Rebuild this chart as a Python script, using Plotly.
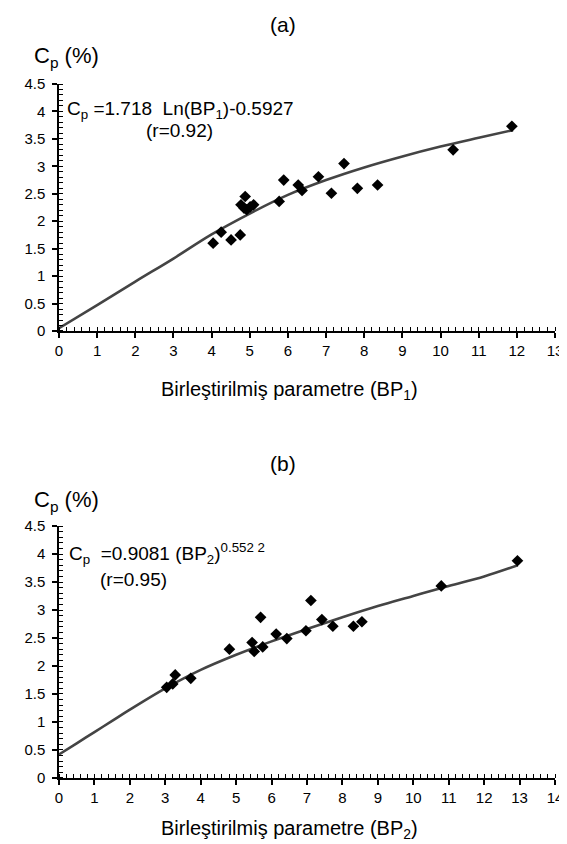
import plotly.graph_objects as go

# ---- data ----
bp1 = [4.04, 4.25, 4.51, 4.75, 4.77, 4.85, 4.92, 5.01, 5.10, 4.88,
       5.77, 5.89, 6.27, 6.37, 6.80, 7.14, 7.47, 7.82, 8.35, 10.33, 11.87]
cp1 = [1.60, 1.80, 1.66, 1.75, 2.30, 2.24, 2.21, 2.26, 2.30, 2.45,
       2.36, 2.75, 2.66, 2.56, 2.81, 2.51, 3.05, 2.60, 2.66, 3.30, 3.73]
fit1_x = [0.0, 1.0, 2.0, 3.0, 4.0, 5.0, 6.0, 7.0, 8.0, 9.0, 10.0, 11.0, 11.9]
fit1_y = [0.05, 0.47, 0.90, 1.32, 1.76, 2.14, 2.48, 2.75, 2.98, 3.18, 3.36, 3.52, 3.66]

bp2 = [3.04, 3.21, 3.28, 3.72, 4.81, 5.45, 5.51, 5.69, 5.75, 6.13, 6.43,
       6.97, 7.11, 7.42, 7.73, 8.31, 8.55, 10.79, 12.94]
cp2 = [1.62, 1.68, 1.84, 1.78, 2.30, 2.42, 2.26, 2.87, 2.34, 2.57, 2.49,
       2.63, 3.17, 2.83, 2.71, 2.71, 2.79, 3.43, 3.88]
fit2_x = [0.0, 0.5, 1.0, 1.5, 2.0, 3.0, 4.0, 5.0, 6.0, 7.0, 8.0, 9.0, 10.0, 11.0, 12.0, 12.95]
fit2_y = [0.42, 0.62, 0.82, 1.02, 1.22, 1.60, 1.93, 2.20, 2.44, 2.66, 2.87, 3.07, 3.25, 3.43, 3.60, 3.80]

x1_range = [0, 13]
x2_range = [0, 14]
y_range = [0, 4.5]

FONT = "Liberation Sans, Arial, sans-serif"

fig = go.Figure()

fig.add_trace(go.Scatter(x=fit1_x, y=fit1_y, mode="lines", line=dict(color="#444444", width=2.6, shape="spline"),
                         xaxis="x", yaxis="y", cliponaxis=False, showlegend=False))
fig.add_trace(go.Scatter(x=bp1, y=cp1, mode="markers", marker=dict(symbol="diamond", size=9, color="black"),
                         xaxis="x", yaxis="y", showlegend=False))
fig.add_trace(go.Scatter(x=fit2_x, y=fit2_y, mode="lines", line=dict(color="#444444", width=2.6, shape="spline"),
                         xaxis="x2", yaxis="y2", cliponaxis=False, showlegend=False))
fig.add_trace(go.Scatter(x=bp2, y=cp2, mode="markers", marker=dict(symbol="diamond", size=9, color="black"),
                         xaxis="x2", yaxis="y2", showlegend=False))

axis_common = dict(showline=True, linecolor="black", linewidth=1.5, showgrid=False, zeroline=False,
                   ticks="outside", ticklen=5, tickwidth=1.5, tickcolor="black",
                   tickfont=dict(family=FONT, size=15, color="black"))
minor_x = dict(dtick=0.2, ticks="inside", ticklen=4, tickwidth=1.2, tickcolor="black")
minor_y = dict(dtick=0.1, ticks="inside", ticklen=4, tickwidth=1.2, tickcolor="black")

fig.update_layout(
    width=567, height=844,
    margin=dict(l=51, r=17, t=76, b=74),
    paper_bgcolor="white", plot_bgcolor="white",
    xaxis=dict(domain=[0, 1], range=x1_range, dtick=1, anchor="y", minor=minor_x, **axis_common),
    yaxis=dict(domain=[0.6441, 1.0], range=y_range, dtick=0.5, anchor="x", minor=minor_y,
               ticklabelstandoff=4, **axis_common),
    xaxis2=dict(domain=[0, 1], range=x2_range, dtick=1, anchor="y2", minor=minor_x, **axis_common),
    yaxis2=dict(domain=[0.0, 0.3631], range=y_range, dtick=0.5, anchor="x2", minor=minor_y,
                ticklabelstandoff=4, **axis_common),
)

PLOT_L, PLOT_W, PLOT_T, PLOT_H = 51, 499, 76, 694

def ann(text, px, py, xanchor="left", size=19):
    fig.add_annotation(text=text, x=(px - PLOT_L) / PLOT_W, y=1 - (py - PLOT_T) / PLOT_H,
                       xref="paper", yref="paper", xanchor=xanchor, yanchor="middle",
                       showarrow=False, font=dict(family=FONT, size=size, color="black"))

ann("(a)", 276, 16, "center", 21)
ann("C<sub>p</sub> (%)", 24, 49, "left", 22)
ann("C<sub>p</sub> =1.718  Ln(BP<sub>1</sub>)-0.5927", 57, 102, "left", 19)
ann("(r=0.92)", 137, 123, "left", 19)
ann("Birleştirilmiş parametre (BP<sub>1</sub>)", 283, 382, "center", 20)

ann("(b)", 276, 455, "center", 21)
ann("C<sub>p</sub> (%)", 24, 493, "left", 22)
ann("C<sub>p</sub>  =0.9081 (BP<sub>2</sub>)<sup>0.552 2</sup>", 59, 545, "left", 19)
ann("(r=0.95)", 90, 571, "left", 19)
ann("Birleştirilmiş parametre (BP<sub>2</sub>)", 283, 821, "center", 20)

fig.write_html("out.html")
